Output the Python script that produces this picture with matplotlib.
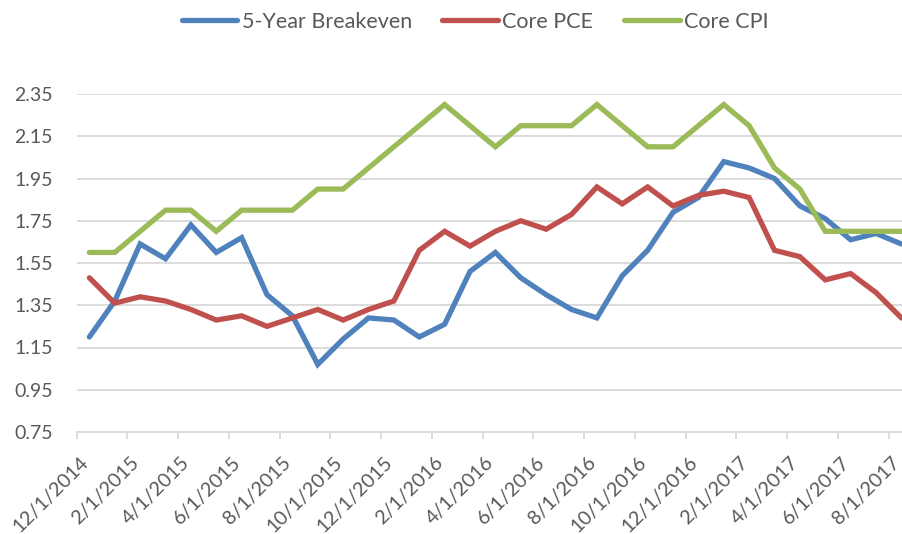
import matplotlib
matplotlib.use("Agg")
import matplotlib.pyplot as plt
import matplotlib.transforms as mtransforms
import numpy as np

dates = ["12/1/2014", "1/1/2015", "2/1/2015", "3/1/2015", "4/1/2015", "5/1/2015", "6/1/2015",
         "7/1/2015", "8/1/2015", "9/1/2015", "10/1/2015", "11/1/2015", "12/1/2015",
         "1/1/2016", "2/1/2016", "3/1/2016", "4/1/2016", "5/1/2016", "6/1/2016",
         "7/1/2016", "8/1/2016", "9/1/2016", "10/1/2016", "11/1/2016", "12/1/2016",
         "1/1/2017", "2/1/2017", "3/1/2017", "4/1/2017", "5/1/2017", "6/1/2017",
         "7/1/2017", "8/1/2017"]

breakeven = [1.20, 1.37, 1.64, 1.57, 1.73, 1.60, 1.67, 1.40, 1.30, 1.07, 1.19,
             1.29, 1.28, 1.20, 1.26, 1.51, 1.60, 1.48, 1.40, 1.33, 1.29,
             1.49, 1.61, 1.79, 1.86, 2.03, 2.00, 1.95, 1.82, 1.76, 1.66, 1.69, 1.64]
core_pce = [1.48, 1.36, 1.39, 1.37, 1.33, 1.28, 1.30, 1.25, 1.29, 1.33, 1.28,
            1.33, 1.37, 1.61, 1.70, 1.63, 1.70, 1.75, 1.71, 1.78, 1.91,
            1.83, 1.91, 1.82, 1.87, 1.89, 1.86, 1.61, 1.58, 1.47, 1.50, 1.41, 1.29]
core_cpi = [1.6, 1.6, 1.7, 1.8, 1.8, 1.7, 1.8, 1.8, 1.8, 1.9, 1.9,
            2.0, 2.1, 2.2, 2.3, 2.2, 2.1, 2.2, 2.2, 2.2, 2.3,
            2.2, 2.1, 2.1, 2.2, 2.3, 2.2, 2.0, 1.9, 1.7, 1.7, 1.7, 1.7]

series_names = ["5-Year Breakeven", "Core PCE", "Core CPI"]
colors = ["#4F81BD", "#C0504D", "#9BBB59"]
yticks = [0.75, 0.95, 1.15, 1.35, 1.55, 1.75, 1.95, 2.15, 2.35]

plt.rcParams['font.family'] = ['Lato', 'DejaVu Sans']
text_color = "#595959"
grid_color = "#D9D9D9"

fig = plt.figure(figsize=(9.02, 5.34), dpi=100)
W, H = 902, 534
left_px, right_px = 76.7, 76.7 + 33 * 25.375
top_px, bot_px = 94, 432
ax = fig.add_axes([left_px / W, 1 - bot_px / H, (right_px - left_px) / W, (bot_px - top_px) / H])

x = np.arange(len(dates))
for vals, name, c in zip([breakeven, core_pce, core_cpi], series_names, colors):
    ax.plot(x, vals, color=c, lw=3.8, label=name, solid_capstyle='round', solid_joinstyle='miter', zorder=3)

ax.set_xlim(-0.5, len(dates) - 0.5)
ax.set_ylim(0.75, 2.35)
ax.set_yticks(yticks)
ax.set_yticklabels([f"{v:.2f}" for v in yticks])
ax.yaxis.grid(True, color=grid_color, lw=1.3)
ax.set_axisbelow(True)

ax.set_xticks(x[::2])
ax.set_xticklabels(dates[::2], rotation=45, ha='right', va='center', rotation_mode='anchor')
ax.set_xticks(np.arange(-0.5, len(dates), 2), minor=True)
ax.tick_params(axis='x', which='major', length=0, pad=20, labelsize=14.3, labelcolor=text_color)
ax.tick_params(axis='x', which='minor', length=5, width=1.3, color=grid_color, direction='out')
ax.tick_params(axis='y', length=0, pad=17, labelsize=14, labelcolor=text_color)
shift = mtransforms.ScaledTranslation(-4 / 100, 0, fig.dpi_scale_trans)
for lbl in ax.get_xticklabels():
    lbl.set_transform(lbl.get_transform() + shift)

for s in ['top', 'right', 'left']:
    ax.spines[s].set_visible(False)
ax.spines['bottom'].set_color(grid_color)
ax.spines['bottom'].set_linewidth(1.3)

handles, labels = ax.get_legend_handles_labels()
fig.legend(handles, labels, loc='center', bbox_to_anchor=(475 / W, 1 - 21.7 / H), ncol=3,
           frameon=False, fontsize=15.5, labelcolor=text_color, handlelength=2.6,
           handletextpad=0.2, columnspacing=1.4)

fig.savefig("out.png", dpi=100)
